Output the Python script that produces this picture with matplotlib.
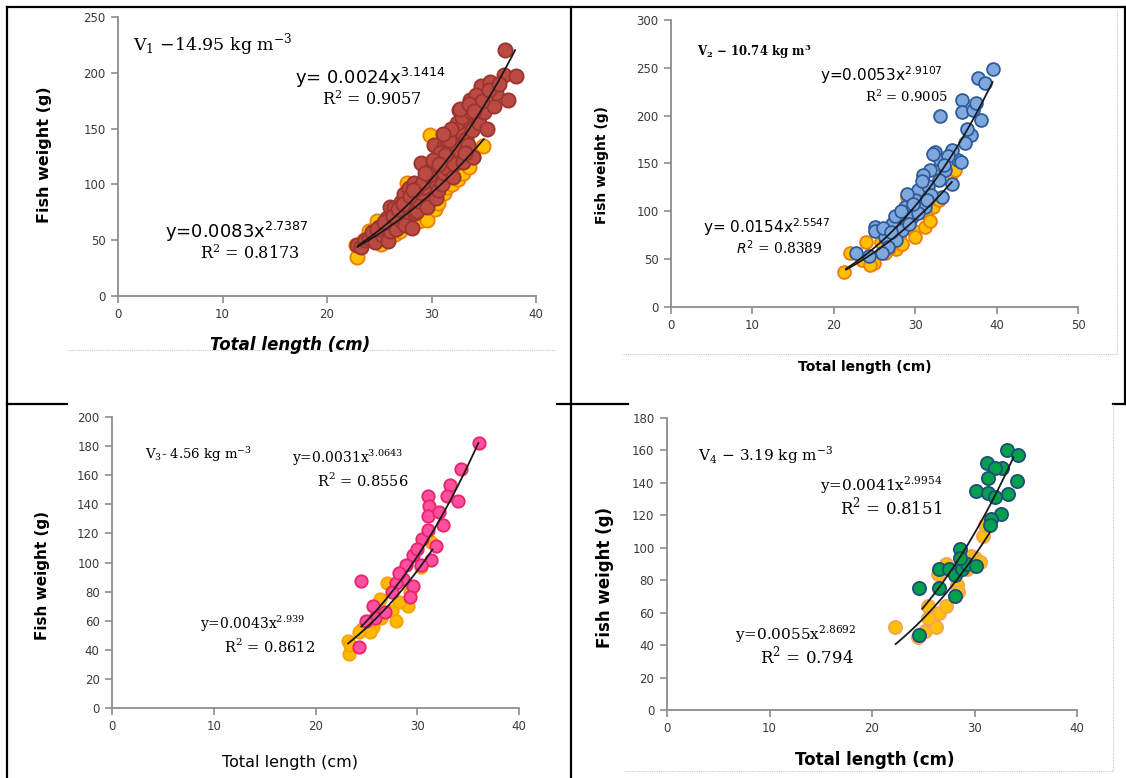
import matplotlib
matplotlib.use("Agg")
import matplotlib.pyplot as plt
import numpy as np
from matplotlib.lines import Line2D

# %%
# Length-weight data for the four stocking densities (colour) and control (orange)
v1_len = [22.9, 23.3, 23.6, 24.0, 24.3, 24.6, 25.0, 25.3, 25.7, 25.8, 26.0, 26.0, 26.1, 26.4, 26.6,
          26.9, 27.0, 27.1, 27.4, 27.5, 27.8, 27.8, 28.0, 28.1, 28.3, 28.4, 28.6, 28.7, 28.8, 29.0,
          29.1, 29.3, 29.5, 29.6, 29.9, 30.0, 30.2, 30.4, 30.5, 30.6, 30.9, 31.0, 31.2, 31.2, 31.5,
          31.5, 31.8, 32.0, 32.1, 32.2, 32.3, 32.5, 32.6, 32.8, 33.0, 33.0, 33.3, 33.4, 33.5, 33.7,
          33.9, 34.0, 34.2, 34.4, 34.5, 34.7, 35.0, 35.3, 35.6, 36.0, 36.2, 36.9, 37.0, 37.3, 38.1,
          24.8, 25.5, 26.3, 26.8, 27.3, 27.9, 28.5, 29.2, 29.8, 30.3, 30.8, 31.3, 31.7, 32.4, 32.9,
          33.2, 33.8, 34.3, 34.8, 35.5, 36.5, 29.4, 30.1, 31.9, 28.2, 32.7, 33.6, 34.1, 31.1, 30.7]
v1_wt = [46, 44, 50, 52, 57, 48, 62, 55, 70, 49, 58, 80, 66, 79, 60,
         72, 68, 84, 91, 64, 97, 75, 86, 61, 101, 74, 76, 92, 85, 119,
         92, 98, 105, 80, 113, 104, 135, 88, 112, 95, 125, 100, 110, 134, 115,
         138, 122, 130, 107, 118, 143, 132, 167, 150, 120, 145, 141, 158, 135, 176,
         149, 125, 161, 170, 155, 188, 165, 150, 192, 170, 182, 198, 220, 176, 197,
         60, 66, 72, 78, 82, 90, 96, 102, 108, 118, 128, 126, 140, 155, 160,
         128, 165, 180, 175, 185, 190, 110, 122, 150, 95, 168, 172, 166, 145, 118]
c1_len = [22.8, 22.9, 23.5, 24.0, 24.3, 24.8, 25.2, 25.5, 26.0, 26.5, 27.0, 27.7, 28.0, 28.8,
          29.5, 29.6, 29.9, 30.3, 30.6, 31.2, 31.5, 32.0, 32.5, 33.0, 33.6, 34.0, 34.9]
c1_wt = [46, 35, 50, 58, 53, 67, 47, 55, 62, 56, 58, 101, 66, 67,
         70, 68, 144, 78, 83, 92, 98, 100, 105, 110, 116, 125, 134]

v2_len = [39.5, 37.7, 38.6, 35.7, 33.1, 35.8, 37.1, 38.1, 37.5, 36.9, 36.1, 35.3, 32.4, 33.1,
          34.5, 31.8, 33.7, 34.5, 32.9, 30.4, 31.6, 33.3, 30.0, 28.8, 31.2, 28.0, 29.6, 27.1,
          25.1, 25.1, 26.3, 28.4, 27.6, 26.7, 22.7, 25.9, 24.3, 29.2, 30.4, 35.6, 34.0, 32.2,
          31.0, 29.0, 27.5, 26.0, 28.2, 30.8, 32.0, 33.5, 36.4, 29.7, 27.0, 31.4]
v2_wt = [249, 239, 234, 216, 200, 204, 206, 195, 213, 180, 171, 154, 162, 154,
         164, 143, 143, 129, 133, 122, 126, 115, 112, 105, 105, 94, 94, 87,
         84, 79, 73, 80, 70, 63, 56, 56, 53, 87, 98, 152, 158, 160,
         138, 118, 95, 83, 100, 132, 117, 148, 186, 108, 78, 112]
c2_len = [21.2, 22.0, 23.9, 23.5, 24.9, 26.3, 27.6, 28.0, 29.0, 29.8, 31.2, 32.2, 32.9, 31.2,
          34.5, 34.9, 28.4, 30.0, 25.8, 24.5, 26.8, 31.8]
c2_wt = [37, 56, 68, 49, 46, 56, 61, 73, 115, 79, 84, 105, 112, 98,
         140, 143, 66, 73, 68, 44, 62, 90]

v3_len = [36.1, 34.3, 33.2, 32.9, 34.0, 31.1, 31.2, 31.1, 32.1, 32.5, 31.8, 30.5, 31.1, 31.4,
          29.6, 30.4, 28.9, 29.6, 28.6, 29.3, 27.9, 27.5, 24.5, 25.7, 25.8, 25.0, 24.3, 26.8,
          28.2, 30.0]
v3_wt = [182, 164, 153, 146, 142, 146, 139, 132, 135, 126, 111, 116, 122, 102,
         105, 98, 98, 84, 89, 76, 86, 80, 87, 70, 62, 60, 42, 66,
         93, 109]
c3_len = [23.2, 23.3, 23.4, 27.0, 27.5, 27.9, 26.4, 25.7, 24.6, 29.1, 28.2, 30.4, 31.4, 29.3,
          26.3, 25.4, 24.3]
c3_wt = [46, 37, 43, 86, 67, 60, 62, 56, 54, 70, 73, 97, 114, 80,
         75, 52, 52]

v4_len = [33.2, 34.2, 31.2, 32.7, 32.0, 31.3, 34.1, 30.1, 31.3, 32.0, 33.3, 32.6, 31.6, 31.5,
          28.6, 24.6, 26.5, 27.5, 26.5, 28.1, 28.8, 29.3, 30.1, 28.1, 24.6, 28.6]
v4_wt = [160, 157, 152, 149, 149, 143, 141, 135, 134, 131, 133, 121, 118, 114,
         99, 75, 87, 87, 75, 83, 87, 90, 89, 70, 46, 94]
c4_len = [22.2, 24.5, 25.2, 25.9, 26.2, 26.5, 25.5, 27.2, 26.4, 27.2, 28.3, 28.4, 28.6, 29.7,
          30.0, 30.5, 30.8, 31.0, 29.3, 25.5]
c4_wt = [51, 45, 49, 54, 51, 60, 64, 64, 84, 90, 77, 73, 86, 95,
         94, 91, 107, 114, 87, 57]

# Power fits W = a * L^b : (a, b, R2) for density group and control
fit_v = [(0.0024, 3.1414, 0.9057), (0.0053, 2.9107, 0.9005),
         (0.0031, 3.0643, 0.8556), (0.0041, 2.9954, 0.8151)]
fit_c = [(0.0083, 2.7387, 0.8173), (0.0154, 2.5547, 0.8389),
         (0.0043, 2.939, 0.8612), (0.0055, 2.8692, 0.794)]
range_v = [(23.0, 38.0), (21.5, 39.5), (24.5, 36.0), (24.9, 33.8)]
range_c = [(22.9, 35.0), (21.5, 34.5), (23.2, 31.5), (22.3, 31.5)]

densities = ["14.95", "10.74", "4.56", "3.19"]
x_max = [40, 50, 40, 40]
y_max = [250, 300, 200, 180]
y_step = [50, 50, 20, 20]

# %%
W, H = 1126, 778
fig = plt.figure(figsize=(W / 100, H / 100), dpi=100)
fig.patch.set_facecolor("white")


def px_axes(left, top, right, bottom):
    return fig.add_axes([left / W, 1 - bottom / H, (right - left) / W, (bottom - top) / H])


def put(x, y, s, **kw):
    kw.setdefault("ha", "left")
    kw.setdefault("va", "center")
    return fig.text(x / W, 1 - y / H, s, **kw)


def hline(y, x0, x1, **kw):
    fig.add_artist(Line2D([x0 / W, x1 / W], [1 - y / H, 1 - y / H], transform=fig.transFigure, **kw))


def vline(x, y0, y1, **kw):
    fig.add_artist(Line2D([x / W, x / W], [1 - y0 / H, 1 - y1 / H], transform=fig.transFigure, **kw))


boxes = [(118, 17, 536, 296), (671, 20, 1078, 307), (112, 417, 519, 708), (667, 418, 1077, 710)]
groups = [(v1_len, v1_wt, c1_len, c1_wt), (v2_len, v2_wt, c2_len, c2_wt),
          (v3_len, v3_wt, c3_len, c3_wt), (v4_len, v4_wt, c4_len, c4_wt)]
face = ["#bb4a43", "#7fa9dd", "#ff4f9e", "#00a04c"]
edge = ["#9b342f", "#2e5a9c", "#e8246b", "#1f4e79"]
ctrl_face = ["#ffc000", "#ffc000", "#ffb800", "#ffc000"]
ctrl_edge = ["#f07d00", "#f07d00", "#f5a300", "#f4a460"]
msize = [105, 85, 80, 90]

for i, ax in enumerate([px_axes(*b) for b in boxes]):
    vl, vw, cl, cw = groups[i]
    ax.scatter(cl, cw, s=msize[i], c=ctrl_face[i], edgecolors=ctrl_edge[i], linewidths=1.3, zorder=2)
    ax.scatter(vl, vw, s=msize[i], c=face[i], edgecolors=edge[i], linewidths=1.3, zorder=3)

    for (a, b, r2), (lo, hi) in [(fit_c[i], range_c[i]), (fit_v[i], range_v[i])]:
        xs = np.linspace(lo, hi, 100)
        ax.plot(xs, a * xs ** b, color="#1a1a1a", lw=1.3, zorder=4)

    ax.set_xlim(0, x_max[i])
    ax.set_ylim(0, y_max[i])
    ax.set_xticks(np.arange(0, x_max[i] + 1, 10))
    ax.set_yticks(np.arange(0, y_max[i] + 1, y_step[i]))
    for s in ["top", "right"]:
        ax.spines[s].set_visible(False)
    for s in ["left", "bottom"]:
        ax.spines[s].set_color("#8c8c8c")
        ax.spines[s].set_linewidth(1.3)
    ax.tick_params(direction="out", length=5, width=1.2, color="#8c8c8c",
                   labelsize=8.5, labelcolor="#3a3a3a", pad=4)
    ax.patch.set_alpha(0)

# %%
# Table frame around the four charts
k = dict(color="black", lw=1.6)
hline(7, 7, 1125, **k)
vline(7, 7, 778, **k)
vline(571, 7, 778, **k)
vline(1125, 7, 404, **k)
hline(404, 7, 67, **k)
hline(404, 557, 628, **k)
hline(404, 1113, 1126, **k)

# dotted chart-area borders
d = dict(color="#c8c8c8", lw=0.8, ls=(0, (1, 1)))
hline(350, 67, 555, **d)
hline(354, 623, 1117, **d)
vline(1117, 10, 354, **d)
vline(1113, 404, 771, **d)
hline(771, 625, 1113, **d)

serif = "DejaVu Serif"
sans = "DejaVu Sans"
reg = r"\mathregular"

# panel V1
put(133, 45, r"V$_{%s{1}}$ −%s kg m$^{%s{−3}}$" % (reg, densities[0], reg), family=serif, fontsize=12.5)
put(295, 78, r"y= %sx$^{%s{%s}}$" % (fit_v[0][0], reg, fit_v[0][1]), family=sans, fontsize=13)
put(322, 100, r"R$^{%s{2}}$ = %s" % (reg, fit_v[0][2]), family=serif, fontsize=11.5)
put(165, 232, r"y=%sx$^{%s{%s}}$" % (fit_c[0][0], reg, fit_c[0][1]), family=sans, fontsize=13)
put(200, 254, r"R$^{%s{2}}$ = %s" % (reg, fit_c[0][2]), family=serif, fontsize=11.5)
put(45, 155, "Fish weight (g)", family=sans, fontsize=11.5, weight="bold", rotation=90, ha="center")
put(290, 345, "Total length (cm)", family=sans, fontsize=12, weight="bold", style="italic", ha="center")

# panel V2
put(697, 52, r"V$_{%s{2}}$ − %s kg m$^{%s{3}}$" % (reg, densities[1], reg), family=serif, fontsize=8.5,
    weight="bold")
put(820, 75, r"y=%sx$^{%s{%s}}$" % (fit_v[1][0], reg, fit_v[1][1]), family=sans, fontsize=11)
put(865, 97, r"R$^{%s{2}}$ = %s" % (reg, fit_v[1][2]), family=serif, fontsize=9.5)
put(703, 227, r"y= %sx$^{%s{%s}}$" % (fit_c[1][0], reg, fit_c[1][1]), family=sans, fontsize=11)
put(736, 248, r"$R^{2}$ = %s" % fit_c[1][2], family=serif, fontsize=10)
put(602, 165, "Fish weight (g)", family=sans, fontsize=10, weight="bold", rotation=90, ha="center")
put(865, 367, "Total length (cm)", family=sans, fontsize=10, weight="bold", ha="center")

# panel V3
put(145, 455, r"V$_{%s{3}}$- %s kg m$^{%s{−3}}$" % (reg, densities[2], reg), family=serif, fontsize=9.5)
put(292, 458, r"y=%sx$^{%s{%s}}$" % (fit_v[2][0], reg, fit_v[2][1]), family=serif, fontsize=10)
put(317, 480, r"R$^{%s{2}}$ = %s" % (reg, fit_v[2][2]), family=serif, fontsize=10.5)
put(200, 624, r"y=%sx$^{%s{%s}}$" % (fit_c[2][0], reg, fit_c[2][1]), family=serif, fontsize=10)
put(224, 646, r"R$^{%s{2}}$ = %s" % (reg, fit_c[2][2]), family=serif, fontsize=10.5)
put(42, 575, "Fish weight (g)", family=sans, fontsize=11, weight="bold", rotation=90, ha="center")
put(290, 763, "Total length (cm)", family=sans, fontsize=11.5, ha="center")

# panel V4
put(698, 455, r"V$_{%s{4}}$ − %s kg m$^{%s{−3}}$" % (reg, densities[3], reg), family=serif, fontsize=11)
put(820, 485, r"y=%sx$^{%s{%s}}$" % (fit_v[3][0], reg, fit_v[3][1]), family=serif, fontsize=11)
put(840, 507, r"R$^{%s{2}}$ = %s" % (reg, fit_v[3][2]), family=serif, fontsize=12)
put(735, 634, r"y=%sx$^{%s{%s}}$" % (fit_c[3][0], reg, fit_c[3][1]), family=serif, fontsize=11)
put(760, 656, r"R$^{%s{2}}$ = %s" % (reg, fit_c[3][2]), family=serif, fontsize=12)
put(605, 578, "Fish weight (g)", family=sans, fontsize=12, weight="bold", rotation=90, ha="center")
put(875, 760, "Total length (cm)", family=sans, fontsize=12, weight="bold", ha="center")

fig.savefig("out.png", dpi=100)
